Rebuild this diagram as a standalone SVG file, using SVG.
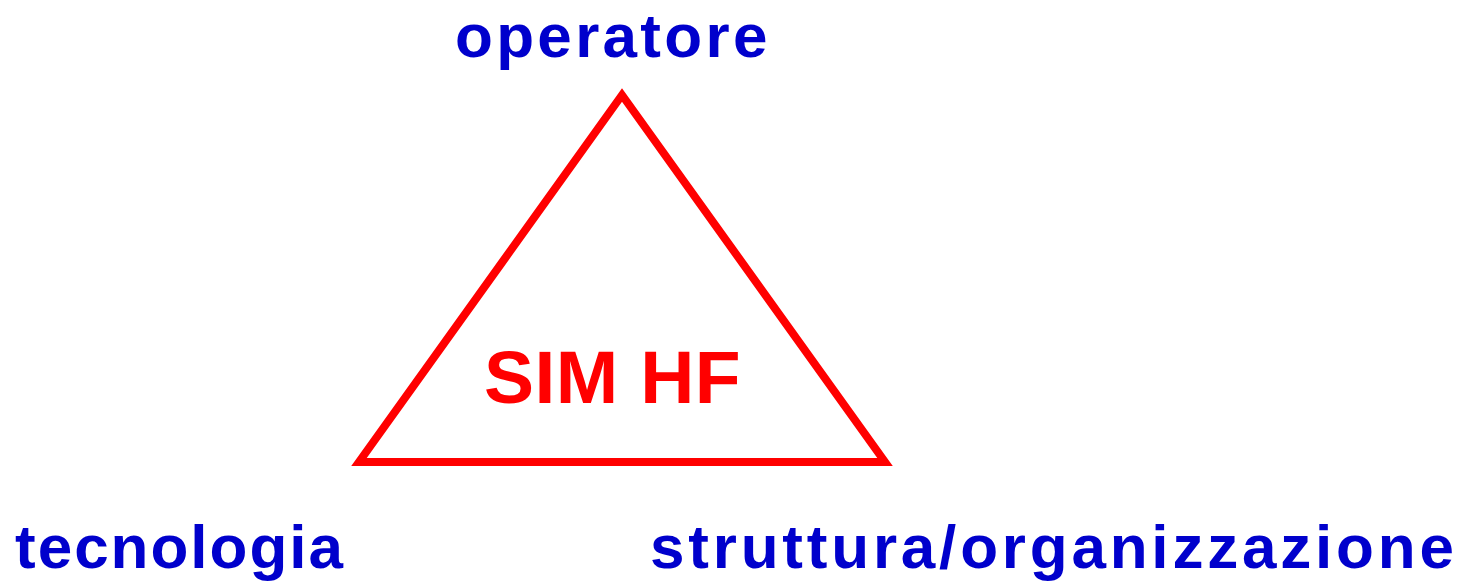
<svg xmlns="http://www.w3.org/2000/svg" width="1470" height="581" viewBox="0 0 1470 581">
<style>
.lbl{font-family:"Liberation Sans",Arial,sans-serif;font-weight:bold;font-size:62px;fill:#0000CC}
.core{font-family:"Liberation Sans",Arial,sans-serif;font-weight:bold;font-size:75px;fill:#FF0000}
.tri{fill:none;stroke:#FF0000;stroke-width:8;stroke-linejoin:miter;stroke-miterlimit:10}
</style>
<rect width="1470" height="581" fill="#FFFFFF"/>
<g id="connectors">
<polygon class="tri" points="622,95 885,462 359,462"/>
</g>
<g id="core"><text class="core" x="484" y="403" letter-spacing="0.5">SIM HF</text></g>
<g id="operatore"><text class="lbl" x="455" y="57" letter-spacing="3.3">operatore</text></g>
<g id="tecnologia"><text class="lbl" x="15" y="568" letter-spacing="2">tecnologia</text></g>
<g id="struttura"><text class="lbl" x="650" y="568" letter-spacing="3.8">struttura/organizzazione</text></g>
</svg>
